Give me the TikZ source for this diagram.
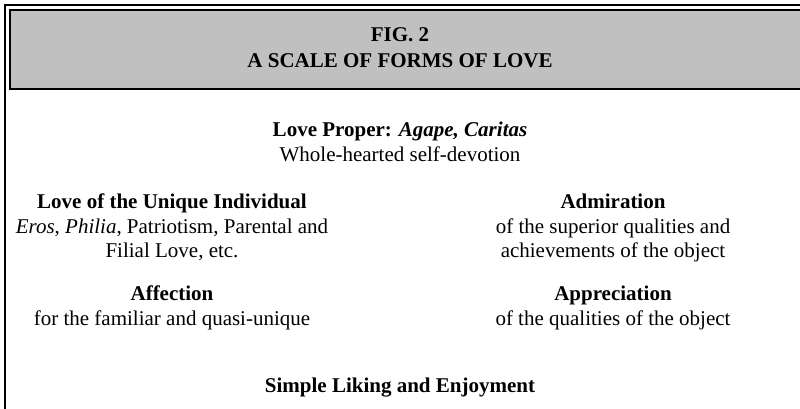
\documentclass[tikz,border=0pt]{standalone}
\usepackage{fontspec}
\setmainfont{Liberation Serif}
\definecolor{gris}{RGB}{192,192,192}
\tikzset{
  texto/.style={inner sep=0pt, align=center, anchor=north,
    font=\fontsize{21}{24.5}\selectfont},
  cabecera/.style={texto, font=\fontsize{21}{26}\selectfont\bfseries},
}
\begin{document}
\begin{tikzpicture}[x=1pt,y=-1pt]
  \useasboundingbox (0,0) rectangle (800,408);

  % Marco y cabecera
  \begin{scope}
    \clip (0,0) rectangle (800,408);
    \draw[line width=2pt] (5,412) -- (5,5) -- (805,5);
    \draw[line width=2pt, fill=gris] (10,10) rectangle (810,89);
  \end{scope}
  \node[cabecera] (titulo) at (400,27) {FIG. 2\\A SCALE OF FORMS OF LOVE};

  % Formas de amor
  \node[texto] (agape) at (400,122)
    {\textbf{Love Proper: \textit{Agape, Caritas}}\\Whole-hearted self-devotion};
  \node[texto] (unico) at (172,194)
    {\textbf{Love of the Unique Individual}\\\textit{Eros}, \textit{Philia}, Patriotism, Parental and\\Filial Love, etc.};
  \node[texto] (admiracion) at (613,194)
    {\textbf{Admiration}\\of the superior qualities and\\achievements of the object};
  \node[texto] (afecto) at (172,286)
    {\textbf{Affection}\\for the familiar and quasi-unique};
  \node[texto] (aprecio) at (613,286)
    {\textbf{Appreciation}\\of the qualities of the object};
  \node[texto] (gusto) at (400,378) {\textbf{Simple Liking and Enjoyment}};
\end{tikzpicture}
\end{document}
